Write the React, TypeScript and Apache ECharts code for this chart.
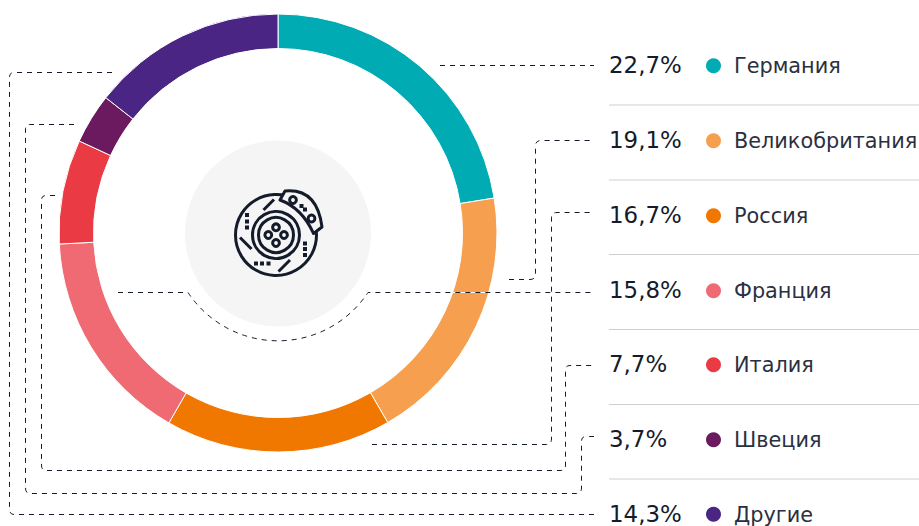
import React, { useEffect, useRef } from "react";
import * as echarts from "echarts";

const countries = ["Германия", "Великобритания", "Россия", "Франция", "Италия", "Швеция", "Другие"];
const shares = [22.7, 19.1, 16.7, 15.8, 7.7, 3.7, 14.3];
// Arc sizes as measured on the ring, which differ slightly from the printed shares.
const arcShares = [22.45, 19.2, 16.65, 15.9, 7.7, 3.7, 14.4];
const colors = ["#00abb3", "#f6a04f", "#f07800", "#ef6a72", "#ea3a43", "#6b1a60", "#4a2583"];
const rowY = [66, 141, 216, 291, 365, 440, 514.5];
const ruleY = [105, 180, 254.5, 329.5, 404.5, 479];
const connectors = [
  "M440 65.5L594 65.5",
  "M509 279.5L530 279.5Q535.5 279.5 535.5 274L535.5 146Q535.5 140.5 541 140.5L594 140.5",
  "M372 444.5L546 444.5Q551.5 444.5 551.5 439L551.5 218Q551.5 212.5 557 212.5L594 212.5",
  "M118 292.5L188 292.5A108 108 0 0 0 368 292.5L594 292.5",
  "M55 195.5L46 195.5Q41.5 195.5 41.5 200L41.5 465Q41.5 470.5 46 470.5L560 470.5Q565.5 470.5 565.5 465L565.5 370Q565.5 365.5 570 365.5L594 365.5",
  "M74 124.5L30 124.5Q25.5 124.5 25.5 129L25.5 488Q25.5 493.5 30 493.5L576 493.5Q581.5 493.5 581.5 488L581.5 441Q581.5 436.5 586 436.5L594 436.5",
  "M112 72.5L14 72.5Q9.5 72.5 9.5 77L9.5 509Q9.5 514.5 14 514.5L594 514.5",
];

const INK = "#141b2b";
const connectorShapes = connectors.map((d, i) => {
  const name = "connector" + i;
  echarts.graphic.registerShape(name, echarts.graphic.extendPath(d, {}));
  return name;
});
echarts.graphic.registerShape(
  "caliper",
  echarts.graphic.extendPath("M285 191Q317 188 322 227L313.5 233.5Q302 208 280 200Z", {})
);

const pct = (v: number) => v.toFixed(1).replace(".", ",") + "%";

function iconElements(): any[] {
  const lw = 3;
  const stroke = { stroke: INK, lineWidth: lw, fill: "none" };
  const line = (x1: number, y1: number, x2: number, y2: number) => ({
    type: "line",
    z: 12,
    shape: { x1, y1, x2, y2 },
    style: { stroke: INK, lineWidth: lw },
  });
  const circle = (cx: number, cy: number, r: number, z = 12) => ({
    type: "circle",
    z,
    shape: { cx, cy, r },
    style: stroke,
  });
  const square = (cx: number, cy: number, z = 12) => ({
    type: "rect",
    z,
    shape: { x: cx - 2, y: cy - 2, width: 4, height: 4 },
    style: { fill: INK },
  });
  return [
    circle(276, 235, 40.5),
    circle(276, 235, 23.5),
    circle(276, 235, 17.5),
    circle(276, 227.3, 3.4),
    circle(268.3, 235, 3.4),
    circle(284, 235, 3.4),
    circle(276, 243, 3.4),
    line(263.5, 210, 274, 199.5),
    line(240, 237.5, 251.5, 249),
    line(278.5, 271.5, 290, 260),
    square(247, 215),
    square(247, 221.5),
    square(247, 227.5),
    square(305, 243.5),
    square(305, 249),
    square(305, 255),
    square(256, 263.5),
    square(262, 263.5),
    square(268.5, 263.5),
    {
      type: "caliper",
      z: 13,
      style: { stroke: INK, lineWidth: lw, fill: "#f5f5f5", lineJoin: "round" },
    },
    circle(293, 200, 3.4, 14),
    circle(311.5, 218.5, 3.4, 14),
    square(301.5, 206, 14),
    square(305, 209.5, 14),
  ];
}

export default function App() {
  const ref = useRef<HTMLDivElement>(null);
  useEffect(() => {
    document.body.style.margin = "0";
    const chart = echarts.init(ref.current!, null, { renderer: "svg" });
    const graphics: any[] = [
      { type: "circle", z: 10, shape: { cx: 278, cy: 233.5, r: 93 }, style: { fill: "#f5f5f5" } },
      ...iconElements(),
      { type: "line", z: 15, shape: { x1: 453, y1: 292.5, x2: 490, y2: 292.5 }, style: { stroke: "#ffffff", lineWidth: 1 } },
      ...connectorShapes.map((t) => ({
        type: t,
        z: 16,
        style: { stroke: INK, lineWidth: 1, lineDash: [5, 5], fill: "none" },
      })),
      ...ruleY.map((y) => ({
        type: "line",
        z: 10,
        shape: { x1: 609, y1: y, x2: 919, y2: y },
        style: { stroke: "#cfcfd2", lineWidth: 1 },
      })),
      ...countries.flatMap((name, i) => [
        {
          type: "text",
          z: 11,
          x: 609,
          y: rowY[i] - 0.6,
          style: { text: pct(shares[i]), fill: INK, font: '22.9px "DejaVu Sans"', verticalAlign: "middle", align: "left" },
        },
        { type: "circle", z: 11, shape: { cx: 713.5, cy: rowY[i] - 0.3, r: 7.5 }, style: { fill: colors[i] } },
        {
          type: "text",
          z: 11,
          x: 734,
          y: rowY[i],
          style: { text: name, fill: "#2a3040", font: '20.8px "DejaVu Sans"', verticalAlign: "middle", align: "left" },
        },
      ]),
    ];
    chart.setOption({
      animation: false,
      series: [
        {
          type: "pie",
          center: [278, 233],
          radius: [184.5, 219],
          startAngle: 90,
          clockwise: true,
          silent: true,
          label: { show: false },
          labelLine: { show: false },
          itemStyle: { borderColor: "#ffffff", borderWidth: 1 },
          data: countries.map((name, i) => ({ name, value: arcShares[i], itemStyle: { color: colors[i] } })),
        },
      ],
      graphic: { elements: graphics },
    });
    return () => chart.dispose();
  }, []);
  return <div ref={ref} style={{ position: "absolute", left: 0, top: 0, width: 919, height: 526 }} />;
}
